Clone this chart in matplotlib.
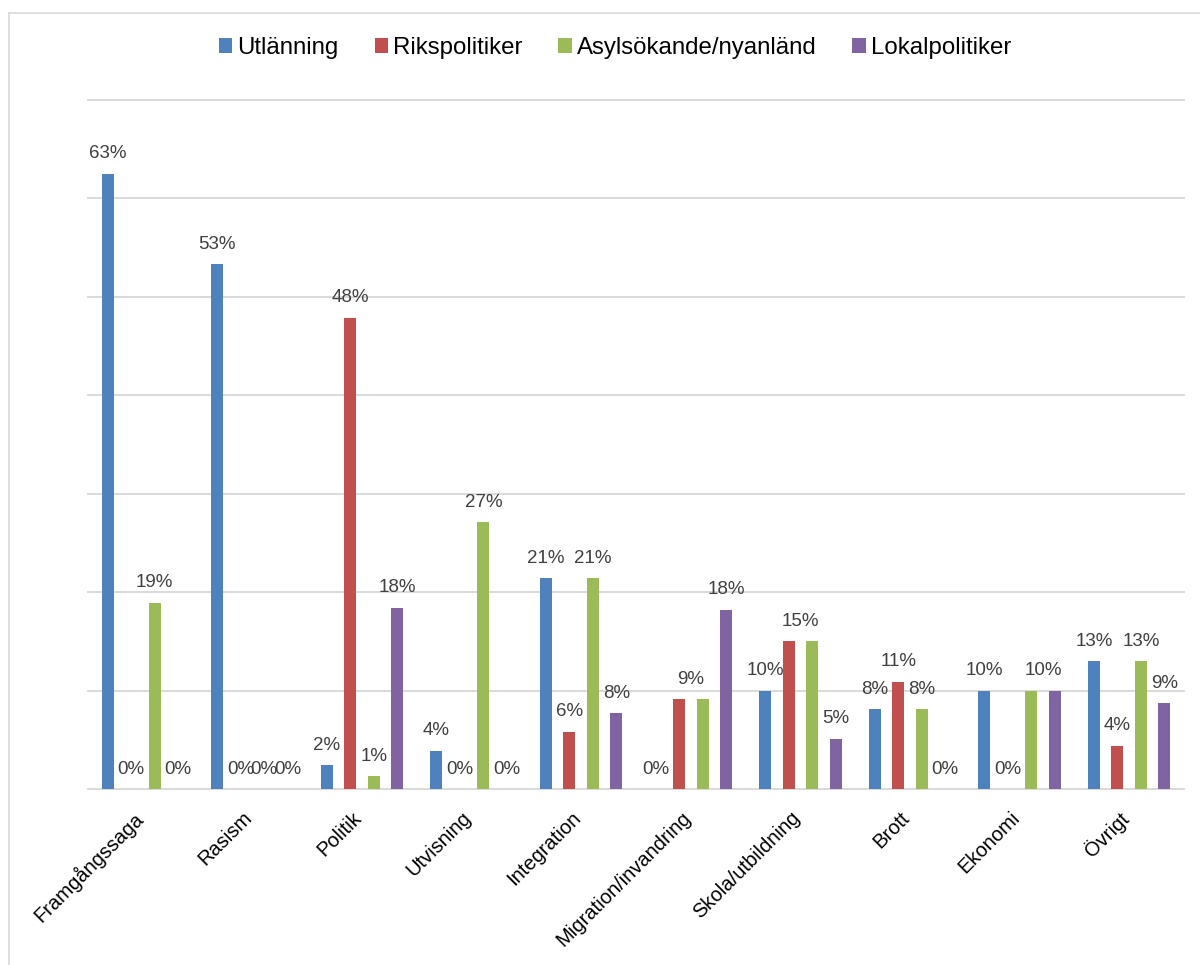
import matplotlib
matplotlib.use("Agg")
import matplotlib.pyplot as plt
from matplotlib.patches import Patch
from matplotlib.lines import Line2D
from matplotlib.transforms import ScaledTranslation

plt.rcParams['font.family'] = ['Liberation Sans', 'DejaVu Sans']

categories = ["Framgångssaga", "Rasism", "Politik", "Utvisning", "Integration",
              "Migration/invandring", "Skola/utbildning", "Brott", "Ekonomi", "Övrigt"]
series_names = ["Utlänning", "Rikspolitiker", "Asylsökande/nyanländ", "Lokalpolitiker"]
utlanning = [62.5, 53.3, 2.4, 3.9, 21.4, 0.0, 10.0, 8.1, 10.0, 13.0]
rikspolitiker = [0.0, 0.0, 47.9, 0.0, 5.8, 9.1, 15.0, 10.9, 0.0, 4.4]
asylsokande = [18.9, 0.0, 1.3, 27.1, 21.4, 9.1, 15.0, 8.1, 10.0, 13.0]
lokalpolitiker = [0.0, 0.0, 18.4, 0.0, 7.7, 18.2, 5.1, 0.0, 10.0, 8.7]
colors = ["#4F81BD", "#C0504D", "#9BBB59", "#8064A2"]

data = [utlanning, rikspolitiker, asylsokande, lokalpolitiker]

W, H = 1200, 965
fig = plt.figure(figsize=(W / 100, H / 100), dpi=100)
ax = fig.add_axes([88 / W, 1 - 789 / H, 1096 / W, 689 / H])
ax.set_xlim(-0.5, len(categories) - 0.5)
ax.set_ylim(0, 70)

grid_c = "#d9d9d9"
for g in range(0, 71, 10):
    ax.axhline(g, color=grid_c, lw=1.4, zorder=0, clip_on=False)

step = 0.2145
bw = 0.11
for i, vals in enumerate(data):
    xs = [j + (i - 1.5) * step for j in range(len(categories))]
    ax.bar(xs, vals, width=bw, color=colors[i], zorder=2, linewidth=0)

# value labels (adjacent equal non-zero values share one label)
lab_kw = dict(textcoords="offset points", ha="center", va="baseline",
              fontsize=13.5, color="#404040", zorder=3)
off = 15.5 * 72 / 100
for j in range(len(categories)):
    i = 0
    while i < len(data):
        v = data[i][j]
        r = int(v + 0.5)
        k = i
        while k + 1 < len(data) and int(data[k + 1][j] + 0.5) == r and r != 0:
            k += 1
        x = j + ((i + k) / 2 - 1.5) * step
        y = max(data[m][j] for m in range(i, k + 1))
        ax.annotate(f"{r}%", xy=(x, y), xytext=(0, off), **lab_kw)
        i = k + 1

for s in ax.spines.values():
    s.set_visible(False)
ax.set_yticks([])
ax.set_xticks(range(len(categories)))
ax.set_xticklabels(categories, rotation=45, ha="right", va="center",
                   rotation_mode="anchor", fontsize=14.5, color="black")
ax.tick_params(axis="x", length=0, pad=26 * 72 / 100)
for lbl in ax.get_xticklabels():
    lbl.set_transform(lbl.get_transform() + ScaledTranslation(-3 / 100, 0, fig.dpi_scale_trans))

handles = [Patch(facecolor=c, edgecolor="none") for c in colors]
fig.legend(handles, series_names, loc="center", bbox_to_anchor=(615 / W, 1 - 48 / H),
           ncol=4, frameon=False, fontsize=17.3, handlelength=0.55, handleheight=0.55,
           handletextpad=0.21, columnspacing=1.5, borderaxespad=0, borderpad=0)

# outer border (partially cropped)
bc = "#d9d9d9"
fig.add_artist(Line2D([9 / W, 1.0], [1 - 13 / H, 1 - 13 / H], color=bc, lw=1.2,
                      transform=fig.transFigure))
fig.add_artist(Line2D([9 / W, 9 / W], [0, 1 - 13 / H], color=bc, lw=1.2,
                      transform=fig.transFigure))

fig.savefig("out.png", dpi=100)
